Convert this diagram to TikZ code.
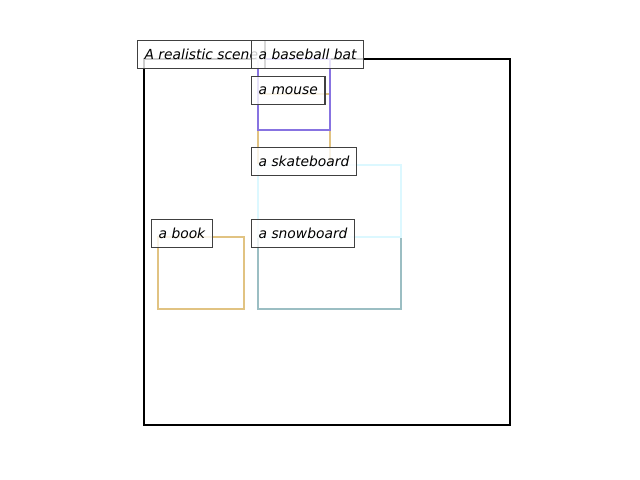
\documentclass[tikz,border=0pt]{standalone}
\usepackage{fontspec}
\newfontfamily\lblfont{DejaVu Sans}[ItalicFont={DejaVu Sans Oblique}]
\usepackage{tikz}
\usetikzlibrary{positioning}
\definecolor{batcol}{RGB}{135,115,225}
\definecolor{tancol}{RGB}{225,195,130}
\definecolor{skatecol}{RGB}{220,248,255}
\definecolor{snowcol}{RGB}{155,190,195}
\definecolor{edgecol}{RGB}{64,64,64}
\begin{document}
\begin{tikzpicture}
[x=0.01in,y=-0.01in,box/.style = {line width = 1.7pt},
 lbl/.style = {draw = edgecol, line width = 0.9pt, fill = white, fill opacity = 0.8, text opacity = 1,
   anchor = west, inner xsep = 0.07in, inner ysep = 0pt, minimum height = 0.28in,
   font = \lblfont\itshape\fontsize{10}{12}\selectfont},]
\useasboundingbox (0,0) rectangle (640,480);
\draw[box,black] (144,59) rectangle (510,425);
\draw[box,snowcol] (258,237) rectangle (401,309);
\draw[box,tancol] (158,237) rectangle (244,309);
\draw[box,tancol] (258,94) rectangle (330,165);
\draw[box,skatecol] (258,165) rectangle (401,237);
\draw[box,batcol] (258,59) rectangle (330,130);
\node (scene) at (137,54.5)[lbl] {A realistic scene};
\node (bat) at (251,54.5)[lbl] {a baseball bat};
\node (mouse) at (251,90.5)[lbl] {a mouse};
\node (skate) at (251,161.5)[lbl] {a skateboard};
\node (book) at (151,233.5)[lbl] {a book};
\node (snow) at (251,233.5)[lbl] {a snowboard};
\end{tikzpicture}
\end{document}
